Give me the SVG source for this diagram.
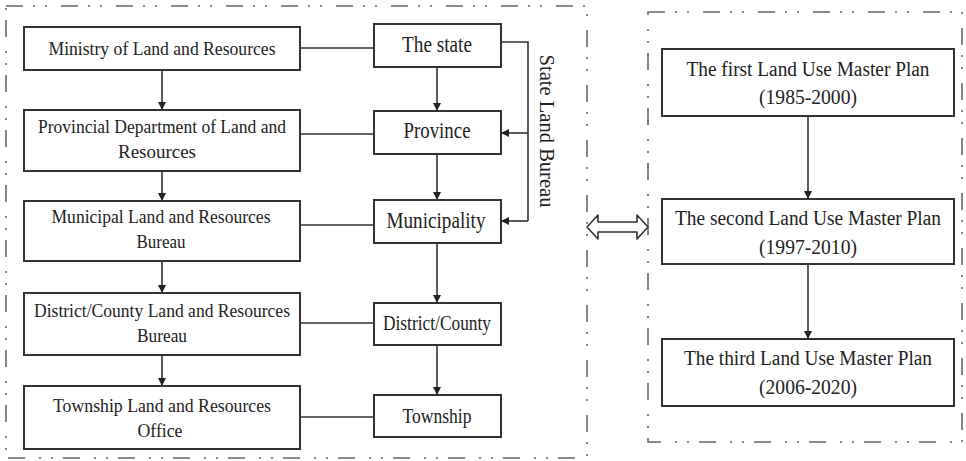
<svg xmlns="http://www.w3.org/2000/svg" width="966" height="461" viewBox="0 0 966 461">
<style>
.frame{fill:none;stroke:#666;stroke-width:1.6;stroke-dasharray:17 10 2 10 2 14}
.box{fill:#fff;stroke:#333;stroke-width:2}
.ln{fill:none;stroke:#333;stroke-width:1.6}
text{font-family:"Liberation Serif","Times New Roman",serif;fill:#222;text-anchor:middle}
.t1{font-size:19.5px}
.t2{font-size:23px}
.t3{font-size:21px}
.t5{font-size:20.5px}
.t4{font-size:20px}
</style>
<defs>
<marker id="ah" viewBox="0 0 10 10" refX="10" refY="5" markerWidth="5" markerHeight="5" orient="auto" markerUnits="strokeWidth">
<path d="M0,0 L10,5 L0,10 z" fill="#222"/>
</marker>
</defs>
<rect width="966" height="461" fill="#fff"/>
<g id="frames">
<rect class="frame" x="6" y="6" width="581" height="452"/>
<rect class="frame" x="648" y="12" width="314" height="430"/>
</g>
<g id="connectors">
<line class="ln" x1="162" y1="70" x2="162" y2="110" marker-end="url(#ah)"/>
<line class="ln" x1="162" y1="171" x2="162" y2="201" marker-end="url(#ah)"/>
<line class="ln" x1="162" y1="261" x2="162" y2="293" marker-end="url(#ah)"/>
<line class="ln" x1="162" y1="355" x2="162" y2="386" marker-end="url(#ah)"/>
<line class="ln" x1="437" y1="67" x2="437" y2="111" marker-end="url(#ah)"/>
<line class="ln" x1="437" y1="154" x2="437" y2="200" marker-end="url(#ah)"/>
<line class="ln" x1="437" y1="243" x2="437" y2="303" marker-end="url(#ah)"/>
<line class="ln" x1="437" y1="345" x2="437" y2="395" marker-end="url(#ah)"/>
<line class="ln" x1="300" y1="48" x2="374" y2="48"/>
<line class="ln" x1="300" y1="134" x2="374" y2="134"/>
<line class="ln" x1="300" y1="225" x2="374" y2="225"/>
<line class="ln" x1="300" y1="323" x2="374" y2="323"/>
<line class="ln" x1="300" y1="417" x2="374" y2="417"/>
<polyline class="ln" points="501,42 528,42 528,221"/>
<line class="ln" x1="528" y1="133" x2="501" y2="133" marker-end="url(#ah)"/>
<line class="ln" x1="528" y1="221" x2="501" y2="221" marker-end="url(#ah)"/>
<line class="ln" x1="808" y1="116" x2="808" y2="199" marker-end="url(#ah)"/>
<line class="ln" x1="808" y1="264" x2="808" y2="339" marker-end="url(#ah)"/>
<polygon points="587,227 598,215 598,222 637,222 637,215 648,227 637,239 637,232 598,232 598,239" fill="#fff" stroke="#333" stroke-width="1.6" stroke-linejoin="round"/>
</g>
<g id="ministry"><rect class="box" x="24" y="27" width="276" height="43"/><text class="t1" x="162" y="55" textLength="227" lengthAdjust="spacingAndGlyphs">Ministry of Land and Resources</text></g>
<g id="provincial-dept"><rect class="box" x="24" y="110" width="276" height="61"/><text class="t1" x="162" y="133" textLength="248" lengthAdjust="spacingAndGlyphs">Provincial Department of Land and</text><text class="t1" x="157" y="158" textLength="78" lengthAdjust="spacingAndGlyphs">Resources</text></g>
<g id="municipal-bureau"><rect class="box" x="24" y="201" width="276" height="60"/><text class="t1" x="161" y="223" textLength="219" lengthAdjust="spacingAndGlyphs">Municipal Land and Resources</text><text class="t1" x="161" y="248" textLength="49" lengthAdjust="spacingAndGlyphs">Bureau</text></g>
<g id="district-bureau"><rect class="box" x="24" y="293" width="276" height="62"/><text class="t1" x="162" y="317" textLength="256" lengthAdjust="spacingAndGlyphs">District/County Land and Resources</text><text class="t1" x="162" y="342" textLength="50" lengthAdjust="spacingAndGlyphs">Bureau</text></g>
<g id="township-office"><rect class="box" x="24" y="386" width="276" height="63"/><text class="t1" x="162" y="412" textLength="218" lengthAdjust="spacingAndGlyphs">Township Land and Resources</text><text class="t1" x="160" y="437" textLength="45" lengthAdjust="spacingAndGlyphs">Office</text></g>
<g id="state"><rect class="box" x="374" y="24" width="127" height="43"/><text class="t2" x="437" y="52" textLength="70" lengthAdjust="spacingAndGlyphs">The state</text></g>
<g id="province"><rect class="box" x="374" y="111" width="127" height="43"/><text class="t2" x="437" y="138" textLength="67" lengthAdjust="spacingAndGlyphs">Province</text></g>
<g id="municipality"><rect class="box" x="374" y="200" width="127" height="43"/><text class="t2" x="436" y="228" textLength="99" lengthAdjust="spacingAndGlyphs">Municipality</text></g>
<g id="district-county"><rect class="box" x="374" y="303" width="127" height="42"/><text class="t4" x="437" y="330" textLength="108" lengthAdjust="spacingAndGlyphs">District/County</text></g>
<g id="township"><rect class="box" x="374" y="395" width="127" height="42"/><text class="t4" x="437" y="423" textLength="69" lengthAdjust="spacingAndGlyphs">Township</text></g>
<g id="state-land-bureau"><text class="t3" transform="translate(540,131) rotate(90)" x="0" y="0" textLength="153" lengthAdjust="spacingAndGlyphs">State Land Bureau</text></g>
<g id="plan1"><rect class="box" x="662" y="49" width="292" height="67"/><text class="t5" x="808" y="76" textLength="243" lengthAdjust="spacingAndGlyphs">The first Land Use Master Plan</text><text class="t5" x="808" y="104" textLength="98" lengthAdjust="spacingAndGlyphs">(1985-2000)</text></g>
<g id="plan2"><rect class="box" x="662" y="199" width="292" height="65"/><text class="t5" x="808" y="225" textLength="266" lengthAdjust="spacingAndGlyphs">The second Land Use Master Plan</text><text class="t5" x="808" y="254" textLength="98" lengthAdjust="spacingAndGlyphs">(1997-2010)</text></g>
<g id="plan3"><rect class="box" x="662" y="339" width="292" height="67"/><text class="t5" x="808" y="365" textLength="248" lengthAdjust="spacingAndGlyphs">The third Land Use Master Plan</text><text class="t5" x="808" y="394" textLength="98" lengthAdjust="spacingAndGlyphs">(2006-2020)</text></g>
</svg>
